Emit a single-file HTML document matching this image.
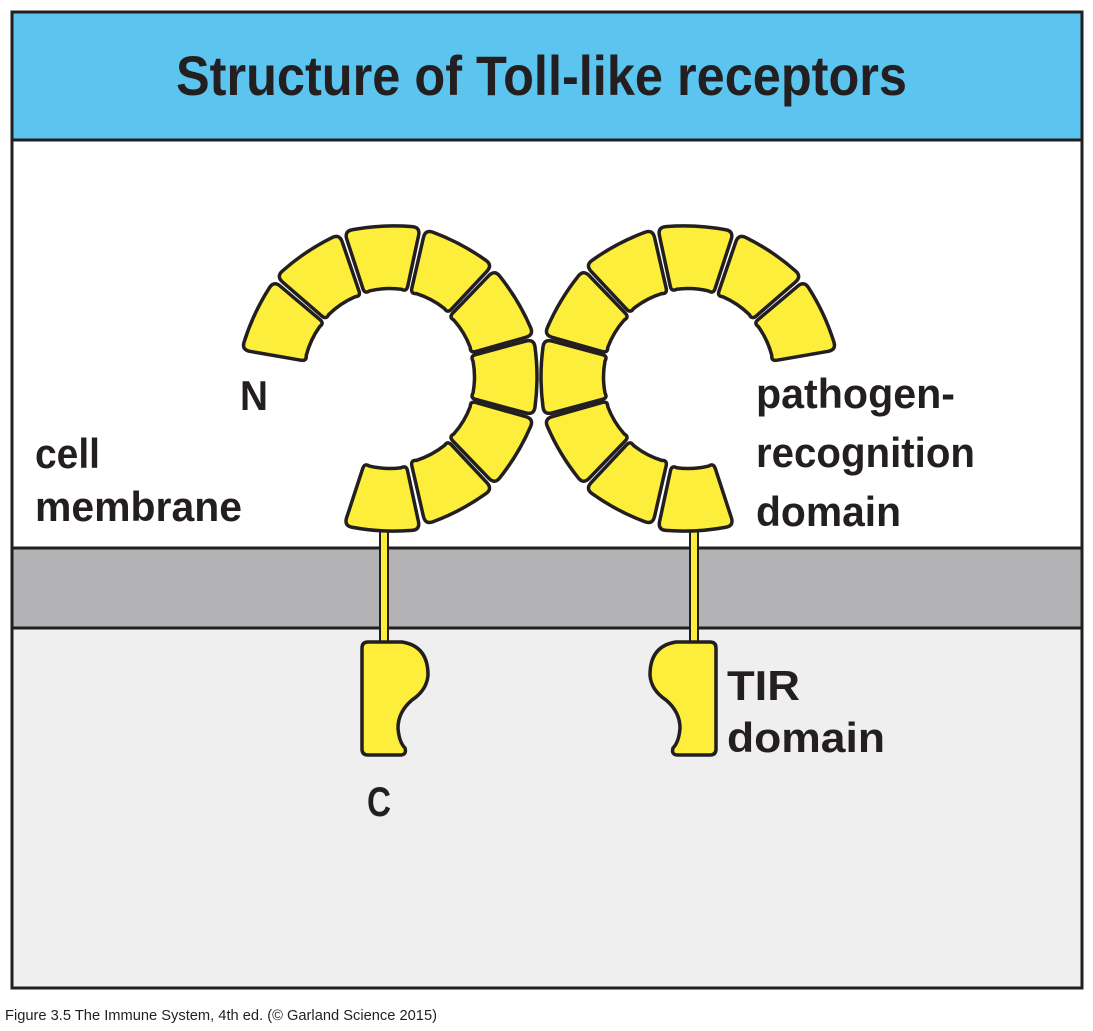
<!DOCTYPE html>
<html><head><meta charset="utf-8"><style>
html,body{margin:0;padding:0;background:#fff;}
svg{display:block;}
text{font-family:"Liberation Sans Narrow","Liberation Sans",sans-serif;font-weight:bold;fill:#231f20;}
</style></head><body>
<svg width="1093" height="1031" viewBox="0 0 1093 1031" xmlns="http://www.w3.org/2000/svg">
<defs>
<path id="seg" d="M83,-16 Q80,-21 86,-22.5 L136,-36 Q144,-38 145,-30 Q149,0 145,30 Q144,38 136,36 L86,22.5 Q80,21 83,16 Q86,0 83,-16 Z" fill="#fcee3b" stroke="#231f20" stroke-width="3.5" stroke-linejoin="round"/>
<g id="ring">
<use href="#seg" transform="rotate(205) translate(2,0)"/>
<use href="#seg" transform="rotate(236) translate(3,0)"/>
<use href="#seg" transform="rotate(267) translate(4,0)"/>
<use href="#seg" transform="rotate(298) translate(3,0)"/>
<use href="#seg" transform="rotate(329) translate(1,0)"/>
<use href="#seg" transform="rotate(0)"/>
<use href="#seg" transform="rotate(31) translate(1,0)"/>
<use href="#seg" transform="rotate(62) translate(3,0)"/>
<use href="#seg" transform="rotate(93) translate(7,0)"/>
</g>
<g id="rec">
<rect x="380" y="530" width="8" height="116" fill="#fcee3b" stroke="#231f20" stroke-width="2"/>
<path d="M362,648 Q362,642 368,642 L402,642 Q428,646 428,675 Q427,690 412,700 Q398,712 398,728 Q399,742 405,748 Q407,755 400,755 L368,755 Q362,755 362,749 Z" fill="#fcee3b" stroke="#231f20" stroke-width="3.5" stroke-linejoin="round"/>
<use href="#ring" transform="translate(390,377)"/>
</g>
</defs>
<rect x="0" y="0" width="1093" height="1031" fill="#fff"/>
<rect x="12" y="12" width="1070" height="128" fill="#5bc5f0"/>
<rect x="12" y="140" width="1070" height="408" fill="#fff"/>
<rect x="12" y="548" width="1070" height="80" fill="#b3b3b5"/>
<rect x="12" y="628" width="1070" height="360" fill="#efeff0"/>
<line x1="12" y1="140" x2="1082" y2="140" stroke="#231f20" stroke-width="3"/>
<line x1="12" y1="548" x2="1082" y2="548" stroke="#231f20" stroke-width="3"/>
<line x1="12" y1="628" x2="1082" y2="628" stroke="#231f20" stroke-width="3"/>
<rect x="12" y="12" width="1070" height="976" fill="none" stroke="#231f20" stroke-width="3"/>
<text x="176" y="95" font-size="56" textLength="731" lengthAdjust="spacingAndGlyphs">Structure of Toll-like receptors</text>
<use href="#rec"/>
<use href="#rec" transform="translate(1078,0) scale(-1,1)"/>
<text x="240" y="410" font-size="42" textLength="28" lengthAdjust="spacingAndGlyphs">N</text>
<text x="35" y="468" font-size="42" textLength="65" lengthAdjust="spacingAndGlyphs">cell</text>
<text x="35" y="521" font-size="42" textLength="207" lengthAdjust="spacingAndGlyphs">membrane</text>
<text x="756" y="408" font-size="42" textLength="199" lengthAdjust="spacingAndGlyphs">pathogen-</text>
<text x="756" y="467" font-size="42" textLength="219" lengthAdjust="spacingAndGlyphs">recognition</text>
<text x="756" y="526" font-size="42" textLength="145" lengthAdjust="spacingAndGlyphs">domain</text>
<text x="727" y="700" font-size="42" textLength="73" lengthAdjust="spacingAndGlyphs">TIR</text>
<text x="727" y="752" font-size="42" textLength="158" lengthAdjust="spacingAndGlyphs">domain</text>
<text x="367" y="816" font-size="42" textLength="24" lengthAdjust="spacingAndGlyphs">C</text>
<text x="5" y="1020" font-size="15" style="font-weight:normal" textLength="432" lengthAdjust="spacingAndGlyphs">Figure 3.5  The Immune System, 4th ed. (© Garland Science 2015)</text>
</svg>
</body></html>
